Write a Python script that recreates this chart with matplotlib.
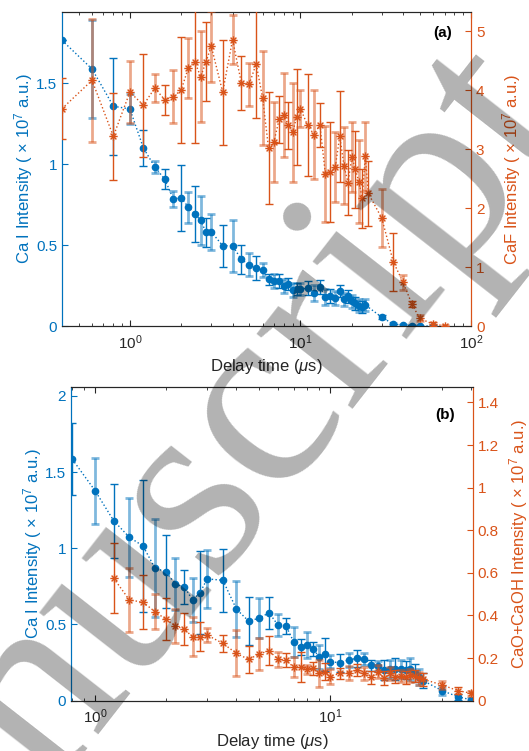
import numpy as np
import matplotlib

matplotlib.use("Agg")
import matplotlib.pyplot as plt
from matplotlib.path import Path
from matplotlib.ticker import FormatStrFormatter

plt.rcParams["font.family"] = ["Liberation Sans", "DejaVu Sans"]
plt.rcParams["mathtext.fontset"] = "custom"
plt.rcParams["mathtext.rm"] = "Liberation Sans"
plt.rcParams["mathtext.it"] = "Liberation Sans:italic"

BLUE = "#0072BD"
ORANGE = "#D95319"
DARK = "#262626"

# ---- panel (a): Ca I (left) and CaF (right) ----
a_ca_t = [0.4, 0.6, 0.8, 1.0, 1.2, 1.4, 1.6, 1.8, 2.0, 2.2, 2.4, 2.6, 2.8, 3.0,
          3.5, 4.0, 4.5, 5.0, 5.5, 6.0, 6.5, 7.0, 7.5, 8.0, 8.5, 9.0, 9.5, 10,
          11, 12, 13, 14, 15, 16, 17, 18, 19, 20, 21, 22, 23, 24, 30, 35, 40,
          45, 50, 60]
a_ca_y = [1.765, 1.588, 1.358, 1.341, 1.10, 0.983, 0.907, 0.784, 0.792, 0.735,
          0.693, 0.652, 0.578, 0.582, 0.496, 0.496, 0.412, 0.378, 0.358, 0.346,
          0.288, 0.278, 0.278, 0.245, 0.257, 0.22, 0.23, 0.226, 0.235, 0.202,
          0.243, 0.177, 0.185, 0.175, 0.214, 0.165, 0.185, 0.154, 0.14, 0.125,
          0.117, 0.13, 0.054, 0.012, 0.006, 0.002, 0.0, 0.0]
a_ca_err = [0.0, 0.30, 0.30, 0.09, 0.11, 0.036, 0.063, 0.051, 0.204, 0.096,
            0.173, 0.15, 0.088, 0.113, 0.13, 0.16, 0.09, 0.072, 0.075, 0.045,
            0.033, 0.043, 0.043, 0.043, 0.037, 0.043, 0.037, 0.037, 0.043, 0.05,
            0.043, 0.05, 0.043, 0.043, 0.037, 0.04, 0.04, 0.04, 0.04, 0.04,
            0.035, 0.035, 0.012, 0.008, 0.005, 0.003, 0.002, 0.002]

a_caf_t = [0.4, 0.6, 0.8, 1.0, 1.2, 1.4, 1.6, 1.8, 2.0, 2.2, 2.4, 2.6, 2.8, 3.0,
           3.5, 4.0, 4.5, 5.0, 5.5, 6.0, 6.5, 7.0, 7.5, 8.0, 8.5, 9.0, 9.5, 10,
           11, 12, 13, 14, 15, 16, 17, 18, 19, 20, 21, 22, 23, 24, 25, 30, 35,
           40, 45, 50, 60, 70]
a_caf_y = [3.69, 4.17, 3.22, 3.97, 3.75, 4.04, 3.84, 3.89, 4.01, 4.38, 4.49,
           4.23, 4.49, 4.75, 3.97, 4.86, 4.13, 4.10, 4.45, 3.87, 3.02, 3.13,
           3.51, 3.58, 3.41, 3.29, 3.55, 3.69, 3.41, 3.25, 3.41, 2.58, 2.62,
           2.70, 3.22, 2.72, 2.43, 2.87, 2.66, 2.45, 2.17, 2.88, 2.25, 1.83,
           1.09, 0.74, 0.374, 0.13, 0.03, 0.005]
a_caf_err = [0.515, 1.04, 0.74, 0.53, 0.875, 0.23, 0.25, 0.45, 0.90, 0.515,
             1.39, 0.77, 0.67, 0.6, 0.89, 0.42, 0.46, 0.36, 0.92, 0.80, 0.95,
             0.68, 0.40, 0.71, 0.40, 0.84, 0.82, 0.31, 0.87, 0.75, 0.37, 0.81,
             0.85, 0.6, 0.77, 0.65, 0.55, 0.6, 0.65, 0.7, 0.5, 0.58, 0.55, 0.49,
             0.49, 0.13, 0.05, 0.05, 0.03, 0.02]

# ---- panel (b): Ca I (left) and CaO+CaOH (right) ----
b_ca_t = [0.8, 1.0, 1.2, 1.4, 1.6, 1.8, 2.0, 2.2, 2.4, 2.6, 2.8, 3.0, 3.5, 4.0,
          4.5, 5.0, 5.5, 6.0, 6.5, 7.0, 7.5, 8.0, 8.5, 9.0, 9.5, 10, 11, 12,
          13, 14, 15, 16, 17, 18, 19, 20, 21, 22, 23, 24, 25, 30, 35, 40]
b_ca_y = [1.584, 1.378, 1.181, 1.072, 1.015, 0.869, 0.847, 0.764, 0.746, 0.661,
          0.709, 0.799, 0.79, 0.60, 0.523, 0.541, 0.577, 0.497, 0.49, 0.387,
          0.35, 0.365, 0.339, 0.285, 0.304, 0.256, 0.249, 0.267, 0.278, 0.276,
          0.234, 0.23, 0.201, 0.206, 0.206, 0.206, 0.201, 0.21, 0.18, 0.157,
          0.13, 0.066, 0.026, 0.005]
b_ca_err = [0.236, 0.216, 0.243, 0.26, 0.43, 0.32, 0.24, 0.17, 0.114, 0.146,
            0.27, 0.19, 0.205, 0.184, 0.155, 0.13, 0.104, 0.071, 0.053, 0.098,
            0.052, 0.088, 0.049, 0.08, 0.106, 0.044, 0.06, 0.044, 0.055, 0.04,
            0.036, 0.033, 0.066, 0.06, 0.072, 0.06, 0.06, 0.072, 0.06, 0.052,
            0.05, 0.03, 0.02, 0.01]

b_cao_t = [1.2, 1.4, 1.6, 1.8, 2.0, 2.2, 2.4, 2.6, 2.8, 3.0, 3.5, 4.0, 4.5, 5.0,
           5.5, 6.0, 6.5, 7.0, 7.5, 8.0, 8.5, 9.0, 9.5, 10, 11, 12, 13, 14, 15,
           16, 17, 18, 19, 20, 21, 22, 23, 24, 25, 30, 35, 40]
b_cao_y = [0.575, 0.473, 0.462, 0.418, 0.382, 0.351, 0.335, 0.30, 0.30, 0.308,
           0.269, 0.222, 0.194, 0.219, 0.235, 0.194, 0.191, 0.157, 0.16, 0.147,
           0.152, 0.128, 0.136, 0.113, 0.128, 0.131, 0.144, 0.128, 0.11, 0.136,
           0.105, 0.128, 0.113, 0.116, 0.11, 0.12, 0.116, 0.105, 0.1, 0.074,
           0.047, 0.035]
b_cao_err = [0.164, 0.149, 0.127, 0.083, 0.098, 0.078, 0.075, 0.092, 0.068,
             0.034, 0.039, 0.108, 0.065, 0.074, 0.068, 0.035, 0.031, 0.048,
             0.07, 0.02, 0.03, 0.065, 0.04, 0.037, 0.026, 0.033, 0.026, 0.03,
             0.03, 0.03, 0.033, 0.03, 0.03, 0.03, 0.03, 0.03, 0.03, 0.03, 0.03,
             0.02, 0.015, 0.012]

# MATLAB-style asterisk marker: a plus and a cross drawn as open strokes
ASTERISK = Path(
    [(-1, 0), (1, 0), (0, -1), (0, 1), (-0.7, -0.7), (0.7, 0.7), (-0.7, 0.7), (0.7, -0.7)],
    [Path.MOVETO, Path.LINETO] * 4,
)


def draw_series(ax, t, y, err, color, marker, ms):
    t = np.asarray(t)
    y = np.asarray(y)
    err = np.asarray(err)
    ax.plot(t, y, ls=":", color=color, lw=1.0, zorder=2)
    # bars come in two shades in the original (solid and washed-out)
    for start, lw, alpha in [(0, 1.0, 1.0), (1, 2.0, 0.5)]:
        ax.errorbar(t[start::2], y[start::2], yerr=err[start::2], fmt="none",
                    ecolor=color, elinewidth=lw, capsize=3, capthick=lw,
                    alpha=alpha, zorder=3)
    if marker == "o":
        ax.plot(t, y, ls="none", marker="o", ms=ms, color=color, mec=color, zorder=4)
    else:
        ax.plot(t, y, ls="none", marker=marker, ms=ms, color=color, mfc="none",
                mew=1.0, zorder=4)


def style_axes(ax, ax2, xlim, ylim_l, ylim_r, yticks_l, yticks_r, right_label,
               right_pad, tag, tag_xy):
    ax.set_xscale("log")
    ax.set_xlim(*xlim)
    ax.set_ylim(*ylim_l)
    ax2.set_ylim(*ylim_r)
    ax.set_yticks(yticks_l)
    ax2.set_yticks(yticks_r)
    ax.yaxis.set_major_formatter(FormatStrFormatter("%g"))
    ax2.yaxis.set_major_formatter(FormatStrFormatter("%g"))

    ax.tick_params(axis="x", which="both", direction="in", top=True, colors=DARK,
                   labelsize=11, pad=5)
    ax.tick_params(axis="x", which="major", length=4)
    ax.tick_params(axis="x", which="minor", length=2.2)
    ax.tick_params(axis="y", direction="in", colors=BLUE, length=4, labelsize=11, right=False)
    ax2.tick_params(axis="y", direction="in", colors=ORANGE, length=4, labelsize=11)

    for a in (ax, ax2):
        a.spines["left"].set_color(BLUE)
        a.spines["right"].set_color(ORANGE)
        a.spines["top"].set_color(DARK)
        a.spines["bottom"].set_color(DARK)
        for s in a.spines.values():
            s.set_linewidth(0.8)

    ax.set_xlabel(r"Delay time ($\mu$s)", fontsize=12, color=DARK, labelpad=4)
    ax.set_ylabel(r"Ca I Intensity ( $\times$ 10$^7$ a.u.)", fontsize=12, color=BLUE,
                  labelpad=1)
    ax2.set_ylabel(right_label, fontsize=12, color=ORANGE, labelpad=right_pad)
    ax2.text(tag_xy[0], tag_xy[1], tag, transform=ax2.transAxes, ha="center",
             va="center", fontsize=11, fontweight="bold", color="k")


fig = plt.figure(figsize=(5.29, 7.51), dpi=100)

ax_a = fig.add_axes([0.1172, 0.5659, 0.7732, 0.4181])
ax_a2 = ax_a.twinx()
draw_series(ax_a, a_ca_t, a_ca_y, a_ca_err, BLUE, "o", 4.5)
draw_series(ax_a2, a_caf_t, a_caf_y, a_caf_err, ORANGE, ASTERISK, 6)
style_axes(ax_a, ax_a2, (0.4, 100), (0, 1.94), (0, 5.33), [0, 0.5, 1, 1.5],
           [0, 1, 2, 3, 4, 5], r"CaF Intensity ( $\times$ 10$^7$ a.u.)", 11, "(a)",
           (0.931, 0.933))

ax_b = fig.add_axes([0.1342, 0.067, 0.7594, 0.4181])
ax_b2 = ax_b.twinx()
draw_series(ax_b, b_ca_t, b_ca_y, b_ca_err, BLUE, "o", 4.5)
draw_series(ax_b2, b_cao_t, b_cao_y, b_cao_err, ORANGE, ASTERISK, 6)
style_axes(ax_b, ax_b2, (0.79, 40.5), (0, 2.06), (0, 1.474), [0, 0.5, 1, 1.5, 2],
           [0, 0.2, 0.4, 0.6, 0.8, 1.0, 1.2, 1.4],
           r"CaO+CaOH Intensity ( $\times$ 10$^7$ a.u.)", 6, "(b)", (0.931, 0.91))

# grey diagonal watermark laid over the figure
fig.text(262 / 529, 1 - 415 / 751, "nuscript", rotation=52, rotation_mode="anchor",
         ha="center", va="center", fontsize=190, family="Liberation Serif",
         color="k", alpha=0.3, zorder=10)

fig.savefig("out.png", dpi=100)
